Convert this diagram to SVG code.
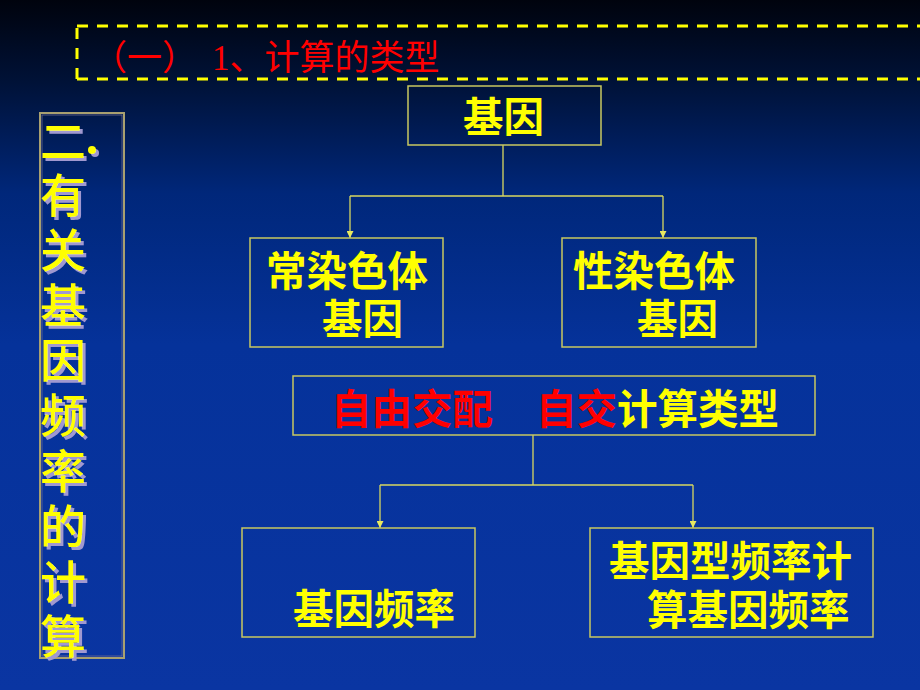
<svg xmlns="http://www.w3.org/2000/svg" width="920" height="690" viewBox="0 0 920 690">
<defs>
<linearGradient id="bg" x1="0" y1="0" x2="0" y2="1">
<stop offset="0" stop-color="#00030d"/>
<stop offset="0.12" stop-color="#001238"/>
<stop offset="0.28" stop-color="#00277a"/>
<stop offset="0.5" stop-color="#05329a"/>
<stop offset="1" stop-color="#0a35a2"/>
</linearGradient>
<filter id="sh" x="-20%" y="-20%" width="150%" height="150%">
<feDropShadow dx="3" dy="3" stdDeviation="0.3" flood-color="#a098d0" flood-opacity="1"/>
</filter>
<marker id="arr" viewBox="0 0 10 10" refX="10" refY="5" markerWidth="7" markerHeight="7" markerUnits="userSpaceOnUse" orient="auto">
<path d="M0,0 L10,5 L0,10 z" fill="#e8e860"/>
</marker>
<style>
.box{fill:none;stroke:#c8c860;stroke-width:1.5}
.con{fill:none;stroke:#d8d860;stroke-width:1.3}
.t{font-family:"Noto Sans CJK SC","Liberation Sans",sans-serif;font-weight:bold;font-size:40.5px;fill:#ffff00}
.red{fill:#ff0000}
.v{font-family:"Noto Sans CJK SC","Liberation Sans",sans-serif;font-weight:500;font-size:46px;fill:#ffff00}
.title{font-family:"Liberation Serif","Noto Sans CJK SC",serif;font-size:35px;fill:#ff0000}
</style>
</defs>
<rect width="920" height="690" fill="url(#bg)"/>

<g id="title">
<path d="M77,26 H930 M77,79 H930 M77,28 V79" fill="none" stroke="#ffff00" stroke-width="3" stroke-dasharray="11,9"/>
<text class="title" x="92" y="70">（一）<tspan x="212">1、计算的类型</tspan></text>
</g>

<g id="side">
<rect x="40" y="113" width="84" height="545" fill="none" stroke="#a8a070" stroke-width="2"/>
<rect x="42" y="115" width="80" height="541" fill="none" stroke="#6a6a90" stroke-width="0.8"/>
<g class="v" filter="url(#sh)">
<circle cx="92" cy="150" r="4"/>
<text x="40" y="158">二<tspan x="40" y="212">有</tspan><tspan x="40" y="267">关</tspan><tspan x="40" y="322">基</tspan><tspan x="40" y="377">因</tspan><tspan x="40" y="432">频</tspan><tspan x="40" y="488">率</tspan><tspan x="40" y="543">的</tspan><tspan x="40" y="599">计</tspan><tspan x="40" y="653">算</tspan></text>
</g>
</g>

<g id="connectors">
<path class="con" d="M503,145 V196 M350,196 H663" />
<path class="con" d="M350,196 V238" marker-end="url(#arr)"/>
<path class="con" d="M663,196 V238" marker-end="url(#arr)"/>
<path class="con" d="M533,435 V485 M380,485 H693" />
<path class="con" d="M380,485 V528" marker-end="url(#arr)"/>
<path class="con" d="M693,485 V528" marker-end="url(#arr)"/>
</g>

<g id="n-gene">
<rect class="box" x="408" y="86" width="193" height="59"/>
<text class="t" x="463" y="132">基因</text>
</g>

<g id="n-auto">
<rect class="box" x="250" y="238" width="193" height="109"/>
<text class="t" x="266" y="286">常染色体<tspan x="322" y="334">基因</tspan></text>
</g>

<g id="n-sex">
<rect class="box" x="562" y="238" width="194" height="109"/>
<text class="t" x="573" y="286">性染色体<tspan x="637" y="334">基因</tspan></text>
</g>

<g id="n-type">
<rect class="box" x="293" y="376" width="522" height="59"/>
<text class="t" x="331" y="424"><tspan class="red">自由交配</tspan><tspan class="red" x="536">自交</tspan><tspan>计算类型</tspan></text>
</g>

<g id="n-freq">
<rect class="box" x="242" y="528" width="233" height="109"/>
<text class="t" x="293" y="624">基因频率</text>
</g>

<g id="n-geno">
<rect class="box" x="590" y="528" width="283" height="109"/>
<text class="t" x="609" y="576">基因型频率计<tspan x="647" y="625">算基因频率</tspan></text>
</g>
</svg>
